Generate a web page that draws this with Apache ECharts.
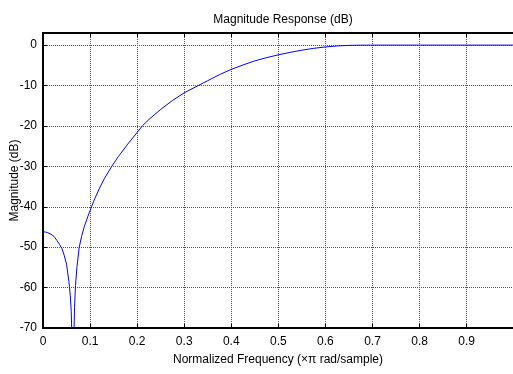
<!DOCTYPE html>
<html>
<head>
<meta charset="utf-8">
<script src="https://cdn.jsdelivr.net/npm/echarts@6/dist/echarts.min.js"></script>
<style>
html, body { margin: 0; padding: 0; background: #fff; }
#chart { width: 513px; height: 374px; }
</style>
</head>
<body>
<div id="chart"></div>
<script>
// 频率 (x pi rad/sample) 和 幅度 (dB)
var freq = [0, 0.005, 0.01, 0.015, 0.02, 0.025, 0.03, 0.035, 0.04, 0.045, 0.05, 0.055, 0.058, 0.06,
  0.062, 0.0635, 0.065, 0.067, 0.069, 0.072, 0.077, 0.082, 0.088, 0.095, 0.103, 0.11, 0.12, 0.13,
  0.146, 0.16, 0.18, 0.2, 0.211, 0.225, 0.25, 0.275, 0.3, 0.33, 0.35, 0.375, 0.4, 0.425, 0.45,
  0.475, 0.5, 0.525, 0.55, 0.575, 0.6, 0.625, 0.65, 0.675, 0.7, 0.8, 0.9, 1.0];
var magDb = [-46.2, -46.25, -46.4, -46.7, -47.0, -47.6, -48.4, -49.3, -50.3, -52.0, -54.2, -58.5, -62, -66,
  -75, -90, -75, -65, -59.5, -55, -50.0, -47.3, -44.8, -42.5, -40.0, -38.0, -35.4, -33.1,
  -30.0, -27.6, -24.5, -21.6, -20.0, -18.4, -15.9, -13.7, -11.8, -10.0, -8.8, -7.3, -6.0, -4.9, -3.9,
  -3.1, -2.4, -1.8, -1.25, -0.8, -0.45, -0.2, -0.07, -0.01, 0, 0, 0, 0];
var yTicks = [0, -10, -20, -30, -40, -50, -60, -70];

var font = '"Liberation Sans", Arial, sans-serif';
var chart = echarts.init(document.getElementById('chart'));

var points = freq.map(function (f, i) { return [f, magDb[i]]; });

chart.setOption({
  animation: false,
  title: {
    text: 'Magnitude Response (dB)',
    left: 278, top: 9, textAlign: 'center',
    textStyle: { fontFamily: font, fontSize: 12, fontWeight: 'normal', color: '#000' }
  },
  grid: { left: 43, top: 33, right: 0, bottom: 46, outerBoundsMode: 'none' },
  xAxis: [{
    type: 'value', min: 0, max: 0.9985, interval: 0.1,
    name: 'Normalized Frequency (\u00d7\u03c0 rad/sample)',
    nameLocation: 'middle', nameGap: 26, nameMoveOverlap: false,
    nameTextStyle: { fontFamily: font, fontSize: 12, color: '#000' },
    axisLine: { show: true, onZero: false, lineStyle: { color: '#000', width: 2 } },
    axisTick: { show: true, inside: true, length: 4, lineStyle: { color: '#000' } },
    axisLabel: {
      fontFamily: font, fontSize: 12, color: '#000', margin: 8,
      formatter: function (v) {
        var r = Math.round(v * 10) / 10;
        return Math.abs(v - r) < 1e-6 ? String(r) : '';
      }
    },
    splitLine: { show: true, lineStyle: { color: '#555', type: 'dotted', width: 1 } }
  }, {
    type: 'value', position: 'top', min: 0, max: 0.9985, interval: 0.1,
    axisLine: { show: true, onZero: false, lineStyle: { color: '#000', width: 2 } },
    axisTick: { show: true, inside: true, length: 4, lineStyle: { color: '#000' } },
    axisLabel: { show: false },
    splitLine: { show: false }
  }],
  yAxis: {
    type: 'value', min: -70, max: 3, interval: 10,
    name: 'Magnitude (dB)',
    nameLocation: 'middle', nameGap: 22, nameRotate: 90, nameMoveOverlap: false,
    nameTextStyle: { fontFamily: font, fontSize: 12, color: '#000' },
    axisLine: { show: true, onZero: false, lineStyle: { color: '#000', width: 2 } },
    axisTick: { show: true, inside: true, length: 4, lineStyle: { color: '#000' } },
    axisLabel: {
      fontFamily: font, fontSize: 12, color: '#000', margin: 6,
      formatter: function (v) { return yTicks.indexOf(v) >= 0 ? String(v) : ''; }
    },
    splitLine: { show: true, lineStyle: { color: '#555', type: 'dotted', width: 1 } }
  },
  series: [{
    type: 'line',
    data: points,
    showSymbol: false,
    clip: true,
    lineStyle: { color: '#0000ff', width: 1 }
  }]
});
</script>
</body>
</html>
